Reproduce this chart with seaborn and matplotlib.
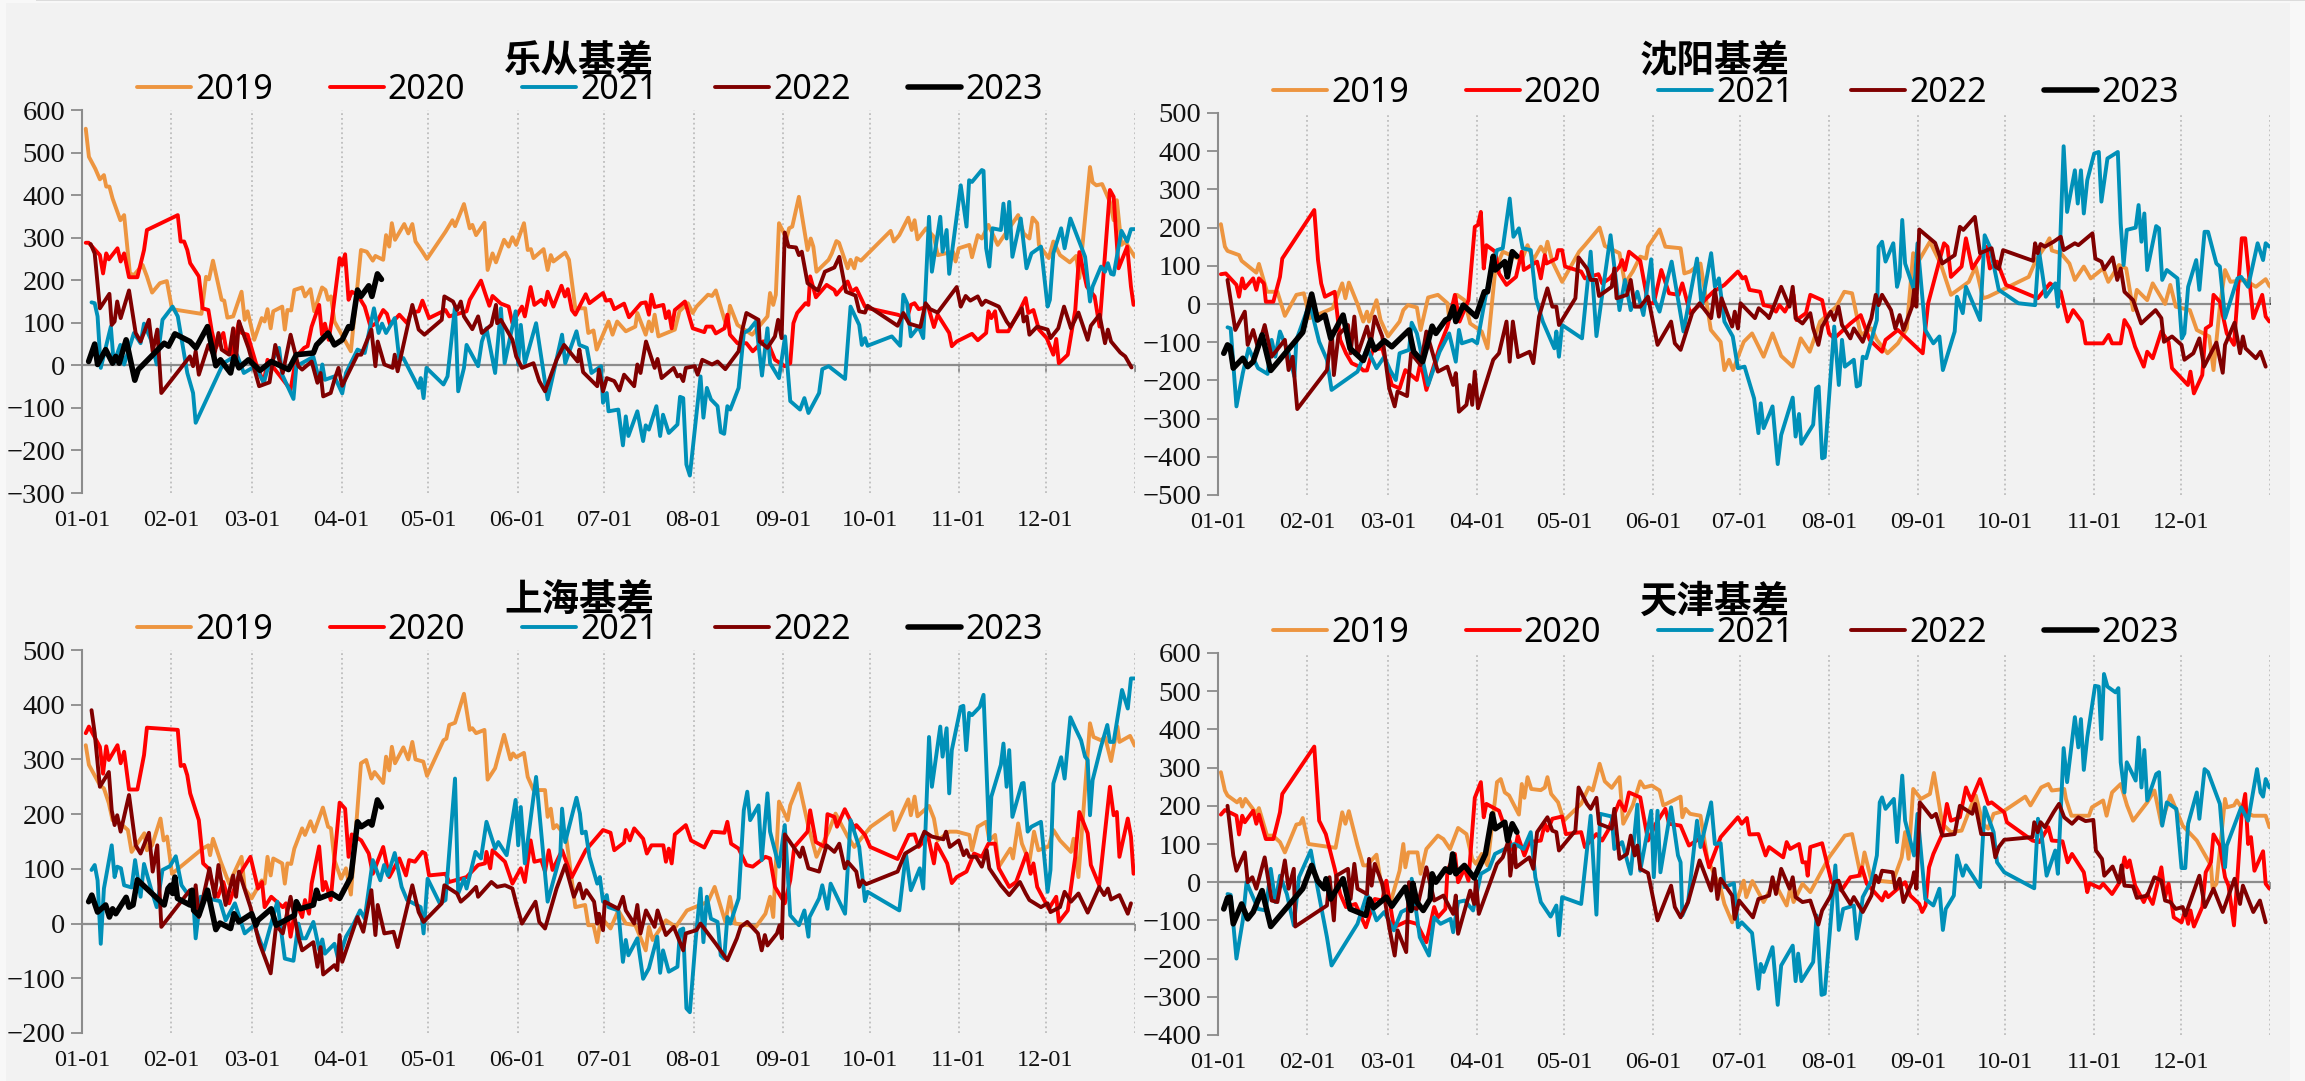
import matplotlib
matplotlib.use("Agg")
import matplotlib.pyplot as plt
from matplotlib.patches import Rectangle
import seaborn as sns

W, H = 2305, 1081

years = ["2019", "2020", "2021", "2022", "2023"]
colors = ["#ED9540", "#FF0000", "#0090B8", "#800000", "#000000"]
month_days = [0, 31, 59, 90, 120, 151, 181, 212, 243, 273, 304, 334]
month_labels = ["01-01", "02-01", "03-01", "04-01", "05-01", "06-01", "07-01", "08-01", "09-01", "10-01", "11-01", "12-01"]
titles = ["乐从基差", "沈阳基差", "上海基差", "天津基差"]

# 乐从 (day of year, value)
lc19_d = [1.3,2.4,4.6,6.2,7.6,8.4,9.5,10.6,13.3,14.6,16.6,18,21,22.5,24.3,27,29.4,31.2,41.4,43,44,45.4,48.4,49.3,50.4,52.4,55.3,56.4,57.4,59.7,62.3,63.3,64.3,65.4,66.3,69.4,70.3,71.2,72.5,73.6,76.3,77.3,79.2,80.5,83.2,84.4,85.3,86.3,87.5,93.2,96.7,98.7,100.8,101.7,104.4,105.4,106.5,107.4,108.5,111.7,113.1,114.5,115.6,118,119.6,126,128.4,129.3,132.4,134.4,135.3,136.6,139.5,140.6,142.3,143.5,146.3,147.9,149.2,150.5,153.2,154.5,155.6,156.5,160,161.4,162.5,163.4,167.5,168.8,171,174.4,175.5,177.3,178.4,182.5,183.9,185.5,188.5,191.8,192.5,195.4,196.5,197.5,198.5,199.8,205.5,207.1,210,211.7,213,217,218.4,219.7,222.7,223.7,224.6,227.2,232.3,237.6,238.5,239.6,240.5,241.6,244.2,245.1,246.2,248.5,251.5,252.6,253.5,254.6,258.8,259.9,261.5,262.4,265.4,266.4,267.7,268.5,270,280.3,281.4,283.3,286.4,287.6,288.6,289.6,292.6,295.3,296.6,301.9,302.8,303.9,307.6,308.5,310.5,311.9,314.2,317.4,324.5,326.4,328.4,329.5,331.1,331.7,335.1,336.7,339,342.4,344.6,345.7,349.4,350.3,351.6,353.6,356.3,357.6,358.7,360.3,361.6,364.9]
lc19_v = [556,490,462,437,447,420,420,392,341,353,216,212,236,209,171,193,198,132,121,208,202,246,154,152,112,115,173,107,127,60,111,103,132,87,127,138,84,130,129,177,183,162,179,127,183,177,154,162,103,33,271,267,246,257,248,306,279,334,295,332,310,332,291,267,250,314,341,327,379,322,330,306,335,224,263,242,295,279,301,283,334,271,273,252,273,224,259,244,265,248,134,134,76,82,37,103,72,103,80,91,123,72,103,80,119,68,84,127,146,123,138,166,163,176,107,91,140,95,72,115,170,142,166,334,298,322,326,396,271,298,279,220,248,263,292,288,228,248,228,252,246,316,291,306,347,318,341,296,322,302,259,267,244,275,283,254,306,298,330,283,353,310,298,347,334,283,252,291,259,242,257,205,466,430,423,426,384,341,388,283,291,255]
lc20_d = [1.3,2.3,6.2,7.3,8.4,9.3,12.3,13.4,14.6,16.3,19.2,21.5,22.5,33.2,34.2,35.4,36.5,37.5,40.5,41.8,43.8,45,46.4,49,50,52,54.4,55.4,57.4,60.3,63,64.3,72.3,74.3,77,78.2,79.6,82.2,83.2,84.2,85.5,86.6,89.3,90.2,91.2,92.4,93.5,95.5,98,100,102,104.4,105.7,106.8,110,112.7,114,116.7,118,120.3,126,127.3,133.3,134.4,138.3,139.7,141.2,142.3,145.2,147.9,149.2,152.5,153.5,155.5,156.8,159.2,160.5,161.4,163.4,166.2,167.4,168.4,169.8,171,174.6,175.9,180.6,181.6,183.2,184.5,187.9,189.6,193.8,195.4,196.5,197.4,198.5,201.5,202.4,203.4,204.4,205.5,209,211.7,215.7,216.4,218.4,219.7,222.7,223.7,224.6,227.2,230.3,232.5,236,237.6,240.2,243.6,245.5,246.6,247.9,250.8,251.8,252.4,254.4,258.1,260.8,261.5,265.4,266.8,268.4,271.4,272.7,282.7,286,287.3,288.6,290,293.3,295.3,296.6,300.6,301.5,303.2,308.5,310.5,313.4,314.2,315.2,316.5,317.4,321.1,325.1,327.1,328,329.8,331.7,334.4,336.7,337.7,338.6,341.7,344.3,345.7,348.3,351,352.7,356.3,357.6,359.3,362.3,363.6,364.5]
lc20_v = [288,288,259,216,263,249,275,244,263,207,207,271,318,353,291,291,271,240,209,134,130,80,41,76,37,25,103,76,72,5,-41,13,-57,21,41,45,91,142,72,98,60,107,252,236,261,154,173,166,138,91,99,130,121,95,119,99,124,127,152,111,130,115,127,154,199,170,140,163,145,138,99,138,115,184,142,154,142,173,138,187,162,179,130,119,167,146,170,152,154,132,145,113,146,148,119,166,137,142,111,127,87,130,150,87,78,91,91,75,87,119,72,52,52,33,56,56,13,-2,5,99,123,146,142,209,160,189,177,166,197,173,181,138,134,119,111,142,146,132,138,90,119,76,45,56,74,59,76,127,111,127,80,80,130,158,123,130,84,64,25,62,5,25,130,266,185,162,91,412,396,228,279,185,142]
lc21_d = [3.3,4.4,5.4,6.5,10,11,13.3,14.6,18,20.3,21.5,23.9,25.9,27.9,31.4,33.2,36.5,38.5,39.4,49,51,53.7,56.1,60,63,64.3,68.3,69.4,73.3,74.3,80.2,82.3,83.3,84.2,87.5,90.2,91.5,95.5,98,101.2,102.8,104,105.4,108.4,110,111.4,116.7,117.4,118.4,119.4,125.3,126.7,129.3,130.4,132.4,133.3,137.3,138.6,140.2,143.2,145.2,146.5,150.3,151.2,152.1,153.5,157.4,161.4,166.4,167.5,171.4,172.4,175,176.6,179.9,180.6,181.9,182.5,185.9,187.5,188.5,189.4,192.5,194.5,195.4,196.5,199.1,200.4,201.4,203.4,206.4,207.3,208.4,209.5,210.7,214.4,215.4,216.6,218,220.3,221.4,222.6,223.7,224.7,227.6,229.4,231.4,233.6,235.7,237.6,238.5,241.6,243.7,245.5,248.9,250.4,251.8,255.5,256.6,258.8,264.5,266.4,269.4,270.3,271.4,272.3,280.7,283.6,284.7,286,287.3,290,291.6,293.6,294.6,297.5,298.3,299.7,300.6,304.6,306.6,307.5,308.5,311.9,312.5,313.4,314.5,315.6,318.5,319.4,320.5,321.4,322.5,325.4,327.4,329.1,332.4,334.7,335.5,336.7,339.4,340.6,342.6,347.7,349.4,350.3,353.2,354.6,355.6,356.7,357.6,360.3,362.3,363.6,364.9]
lc21_v = [148,146,115,-6,91,5,48,2,76,52,98,60,2,107,138,115,-18,-65,-135,5,13,25,-18,-2,-41,-10,41,-22,-79,-2,20,-37,2,-34,-26,-66,-18,37,29,134,76,98,76,111,13,17,-53,-30,-77,-6,-45,-26,138,-61,-6,48,-2,56,87,-18,134,5,127,2,95,5,99,-80,72,5,80,48,41,-18,-2,-88,-65,-108,-104,-188,-120,-166,-108,-178,-141,-151,-96,-166,-116,-159,-139,-74,-77,-233,-259,-26,-123,-53,-80,-96,-157,-161,-96,-104,-53,76,84,103,-24,87,5,-30,68,-84,-104,-77,-112,-65,-9,-2,-32,138,95,48,64,46,68,46,166,146,68,91,64,349,220,349,267,318,215,423,326,435,431,459,457,275,232,322,318,380,298,384,255,345,228,263,279,138,154,263,322,275,345,255,150,185,232,220,240,215,213,316,291,320,320]
lc22_d = [3,4.4,6.2,9.5,10.3,11.3,12.2,13.4,16.3,18.6,20.3,23.2,24.5,26.1,27.5,37.4,38.5,39.4,40.5,43.8,45.8,47.3,48.4,51,52.4,53.4,54.4,57.7,61.4,65,67,69.6,72.3,75,76.3,79.6,81.6,82.7,83.6,86.2,87.5,88.9,90.2,95.5,96.8,100.3,101.7,102.5,104.8,107.7,108.4,109.4,114.5,116.7,118.7,124.7,125.6,128.6,130,131.3,132.4,135.3,137.3,138.6,141.9,143.5,143.9,145.2,149.2,150.5,152.5,156.5,158.5,160.5,164.5,167.1,171.8,172.4,173.7,178.6,179.2,180.6,181.9,184.5,186.3,187.9,191.4,192.5,193.6,195.5,198.5,199.5,200.9,205.1,206.4,207.3,208.4,209.3,212.4,213.4,215,218.4,220.3,223,227.6,229,230.3,234.5,234.9,237.6,240.2,241.3,242.5,243.6,244.9,247.5,248.5,249.5,251.5,255.1,257.5,260.8,262.5,264.8,268.1,269.4,271.4,272.3,282.7,284.7,286.7,290.6,292.4,294,296.6,303.2,304.6,306.3,307.9,310.5,311.9,313.2,317.8,320.5,321.8,325.8,326.4,327.5,328.4,331.1,334.7,335.7,338.4,340.4,342.8,345.4,348.6,349.7,352.7,354.6,355.6,356.7,359.9,361.6,363.8]
lc22_v = [285,263,134,168,95,103,150,111,176,76,56,107,33,84,-65,21,-2,33,-22,48,21,76,37,25,87,13,103,41,-49,-40,48,-18,72,-2,-10,9,-41,-18,-73,-65,-34,-6,-48,25,25,84,-2,56,2,-6,25,-14,142,84,72,107,162,150,130,150,115,85,115,76,95,142,99,107,60,21,-6,5,-37,-61,13,48,9,37,-16,-49,-10,-61,-30,-37,-59,-22,-49,2,-18,56,-6,15,-30,-6,-26,-22,-37,-6,-2,-22,13,2,9,-9,33,87,123,107,56,41,68,107,64,312,279,277,259,267,193,176,220,230,255,173,164,127,124,140,93,123,98,90,146,132,124,184,138,163,152,162,142,152,138,103,91,134,103,115,72,91,84,64,87,138,87,124,60,93,119,52,84,56,30,21,-5]
lc23_d = [2.3,4.4,5.4,8.2,10.6,11.7,12.9,15.3,18.3,19.5,28.5,30,32.2,37.4,39.5,43.5,46.4,48,51.5,52.7,54.4,57.7,61.7,65.6,71.6,74.3,80.2,81.3,85.3,87.5,90.2,92.4,93.5,95.5,96.7,99.4,100.5,102.4,103.8]
lc23_v = [9,50,2,37,5,21,5,60,-35,-10,52,45,74,56,41,91,-1,13,-18,20,-6,13,-12,9,-10,25,29,48,76,48,60,91,87,177,162,187,162,215,202]

# 沈阳
sy19_d = [1,2.4,3.3,7.3,8.2,13.3,14.2,17,20.6,23.2,27.2,29.8,31.8,39.8,43.1,44.2,45.4,48.4,50.4,51.7,52.4,55,56.4,59,63,64.3,65.9,69,70.3,72.9,76.3,79.6,80.2,82.9,85.5,87.5,91.5,93.5,96.2,98.8,105.4,107.4,109.4,112,113.4,114.3,116,119.4,125.3,127.3,132.4,134.2,139.3,141.2,143.9,146.5,148.5,149.2,153.2,155.2,160.5,161.8,163.8,167.4,171,174.4,175.7,177.3,178.7,182.4,185.3,189.3,192.4,195.4,199.4,202.2,205.3,208.9,214.5,217.3,220,223,226.7,228.6,232.3,235.9,239,241.2,243.3,247,250.7,254.3,260.5,262.9,265.4,267.2,281.3,283.8,286.9,288.5,289.3,292.4,295.4,297.3,300.4,302.8,307.1,308.9,312.6,315.1,317.5,318.8,322.4,324.3,328.6,330.4,332.3,337.2,339.6,343.9,345.4,347.6,349.4,351.3,356.2,360.1,363.5,364.8]
sy19_v = [209,150,139,128,113,82,105,32,32,-31,24,28,-37,-11,54,15,56,0,-46,-20,-46,10,-42,-85,-46,-16,-3,-9,-68,17,24,2,-37,24,10,-51,-72,-116,89,137,115,154,115,150,133,163,111,58,137,154,200,152,133,54,85,124,119,150,195,150,146,80,85,106,-68,-99,-173,-146,-173,-99,-77,-138,-77,-136,-164,-90,-125,-46,-7,32,28,-81,-64,-94,-129,-103,-64,133,115,163,106,24,58,98,15,19,71,115,150,172,140,133,106,63,98,67,93,58,102,93,-16,37,10,54,0,50,-7,-16,-68,-85,-173,-7,89,58,63,45,65,47]
sy20_d = [1,2.7,6.4,7.3,8.4,9.3,12.2,13.3,14.2,15.9,16.6,19.2,21.5,22.3,33.4,34.7,35.8,37.1,40.5,42.4,44.4,46.4,49,50.4,51.7,53.7,57,60.3,63,65,69,70.3,72.3,76.9,79.6,82.2,83.8,86.9,89.1,90.2,91.2,92.2,93.1,96.2,97.5,100.1,103.4,105.4,106.1,110.7,112,113.4,114,117.4,118,119.4,120.4,126,127.3,132,133.3,135.9,139.3,140.2,141.2,142.6,146.5,149.2,151.2,153.8,156.5,159.8,161.1,163.8,167.8,171.8,175.7,180.4,182,183,184.4,188.1,189.3,191.8,193.6,194.8,196.7,199.7,200.7,204,205.5,209.6,212,213.8,219.4,223,226.1,230.4,231.6,235.9,239.6,244.5,246.4,251.9,253.1,254.3,258,259.5,261.7,266.6,267.8,270.3,273.4,284.4,288.7,292.4,294.8,296.7,299.7,301,307.1,309,310.2,313.2,314.5,316.3,318.2,321.2,322.4,324.3,327.3,329.8,331,336.5,337.4,338.6,341.5,342.7,344.5,345.4,347.6,350,352.5,355.2,356.4,359.2,362.3,363.5,364.8]
sy20_v = [78,80,50,19,67,41,67,37,67,54,6,6,71,119,246,115,54,19,32,-94,-129,-155,-164,-174,-174,-120,-116,-212,-221,-173,-199,-151,-225,-112,-59,24,-46,10,202,207,241,93,154,137,80,50,71,137,89,111,67,128,106,119,141,141,98,85,67,78,54,67,98,115,89,137,113,2,2,89,28,24,54,-24,2,32,50,85,67,71,37,32,-3,-7,-20,-3,-20,24,-42,-24,24,10,-77,-90,-51,-29,-94,-125,-94,-68,-94,-129,2,159,150,71,98,172,93,150,93,111,50,15,54,32,-46,-16,-46,-103,-103,-81,-103,-103,-42,-64,-112,-164,-125,-142,-72,-99,-168,-212,-177,-234,-186,-64,-55,24,6,-77,-107,172,172,-37,24,-33,-46]
sy21_d = [3.3,4.4,6.4,8.6,10.6,13.9,17.2,18.6,19.9,21.5,24.5,26.5,27.2,31.8,35.1,37.8,39.4,48.4,51.7,55,57.7,59.7,61.7,63,66.3,67.2,69,72.9,76.9,80.2,82.5,83.6,84.6,88.2,89.9,92.8,96.8,98.8,101.2,102.5,104.4,105.7,108.5,110.3,112.7,116.7,117.4,118.3,119.4,126.3,129.3,131.3,136.2,139.3,141.2,143.2,145.5,147.6,150.3,151.2,153.2,157.4,161.5,166.2,167.8,171.1,172.4,173.8,175.7,178.6,180.4,182.7,186,187.5,188.3,189.3,192.4,194.2,195.4,199.4,200.4,201.6,202.4,206.5,207.5,208.4,209.6,210.5,213.8,215.4,216.5,217.5,220.6,221.6,222.7,223.7,224.9,228.6,229.2,230.4,231.6,234.3,235.6,236.5,237.4,238.4,241.5,242.7,245.4,248.2,250.3,251.5,255.6,256.4,258.4,259.5,264.4,266,267.8,270.9,277.7,283.5,284.8,287.2,290.5,291.4,293.4,294.6,297.3,298.3,299.4,300.4,301.6,304,305.6,306.5,308.6,312.2,313.2,314.2,315.3,318.4,319.4,320.4,321.4,322.4,325.5,326.5,327.6,329.2,332.9,334.4,335.3,336.6,339.4,340.5,342.3,343.5,346.4,347.6,349.4,353.7,355,357.4,360.7,362.6,363.5,364.8]
sy21_v = [-61,-64,-268,-181,-116,-168,-183,-94,-138,-72,-129,-190,-94,2,-99,-146,-225,-177,-116,-168,-138,-173,-199,-129,-120,-49,-77,-212,-125,-77,-151,-68,-103,-94,-103,19,141,146,276,176,198,146,141,15,-46,-116,-72,-138,-55,-90,137,-84,180,-16,63,-16,32,-29,117,15,-20,111,-72,119,-7,133,45,67,-46,-85,-168,-164,-247,-338,-260,-325,-268,-419,-343,-245,-347,-288,-366,-316,-221,-216,-404,-401,-59,-212,-94,-164,-146,-216,-212,-138,-142,-42,150,163,111,159,45,71,220,106,37,159,-68,-103,-85,-173,-72,19,-24,45,-42,180,150,37,2,-3,141,19,54,-7,413,241,350,263,350,237,324,394,398,268,381,398,211,102,194,200,259,163,237,89,204,198,63,89,67,-90,-77,45,115,37,189,189,106,98,-37,67,71,45,159,115,159,150]
sy22_d = [3.3,6,9.3,10.3,12.2,13.9,16.2,18.6,23.2,24.5,25.9,27.5,37.8,39.5,40.2,41.8,45.1,46,47.3,48.4,51.7,53,54.4,57,59.4,61.3,62.3,65.6,67,70.3,72.3,76.3,79.6,81.6,82.5,83.6,86.2,87.3,88.2,89.1,90.2,95.5,97.5,100.1,101.2,102.3,104.1,108.1,109.4,111.4,114.3,116,117.4,118.3,124,125.1,128,129.3,131.3,132.2,136.6,137.5,138.3,141.9,143.2,144.6,146.5,149.2,152.5,157.2,158.5,160.5,164.5,167.1,171.1,172.4,173.8,174.7,178.4,179.3,180.4,181.3,186.3,187.6,190.3,191.2,193,195.4,198.3,199.4,200.4,202.8,205.5,206.5,208.3,209.6,212.6,213.8,215.3,216.5,219.4,220.6,223.7,226.7,228.2,229.2,230.4,233.5,235,236.5,237.8,240.8,241.5,242.3,243.3,248.8,251.3,255.6,257.4,258.6,262.6,264.4,268.4,269.7,270.9,272.4,282.8,283.5,284.4,285.4,286.9,289.9,292.4,293.4,297.3,298.5,303.4,304.4,306.5,307.5,310.4,312,313.2,314.5,317.5,320.3,325.3,327.3,328.2,331,334.3,335.3,338.4,340.5,342.1,346.4,348.6,349.4,352.7,354.6,355.6,356.5,360.1,361.7,363.5]
sy22_v = [63,-68,-20,-107,-68,-116,-55,-138,-94,-173,-138,-275,-173,-72,-186,-81,-55,-129,-33,-133,-59,-103,-33,-85,-221,-268,-229,-241,-129,-160,-72,-177,-164,-212,-181,-282,-264,-212,-264,-177,-273,-146,-129,-46,-151,-46,-139,-125,-155,-33,41,-7,-7,-55,15,122,93,63,63,21,45,93,15,24,63,-7,-7,19,-107,-46,-103,-120,-24,2,-37,37,-33,15,-59,-20,-64,2,-37,-11,-29,-37,-3,45,-7,45,-37,-51,-24,-64,-107,-59,-20,-42,-7,-55,-90,-64,-99,-37,24,-3,24,-16,-64,-29,-68,-7,37,-7,195,160,106,128,202,194,228,133,146,98,92,141,113,159,133,157,150,163,176,141,159,154,185,119,111,91,122,63,93,32,10,-51,-16,-37,-99,-85,-107,-146,-129,-90,-164,-101,-180,-107,-49,-129,-85,-116,-142,-125,-164]
sy23_d = [2,3.3,4.2,5.3,8.6,10.3,12.2,15.3,18.3,29.4,32.5,34.5,37.1,39.1,43.4,45.8,50.4,53,54.4,57.7,60.3,66.3,67.9,71,72.9,74.3,75.6,78.9,80.2,81.6,82.5,85.1,89.5,92.4,93.5,95.5,96.2,99.5,100.4,102.1,103.7]
sy23_v = [-129,-107,-112,-168,-142,-164,-151,-81,-174,-74,26,-42,-29,-90,-29,-116,-148,-94,-120,-96,-112,-68,-125,-151,-99,-58,-77,-42,-37,-7,-46,-3,-33,32,32,125,89,111,71,137,125]

# 上海
sh19_d = [1.3,2.4,6.2,7.6,9.3,10.6,13.3,15.9,17.2,21.6,22.5,24.3,27.2,28.3,29.5,31.2,41.8,43.8,44.4,45.4,48.1,51,55.3,56.4,58.8,62.3,63.3,64.3,65.4,66.3,69.4,70.3,71.2,72.5,73.6,76.3,77.3,79.2,80.5,83.5,85.3,86.3,87.5,89.8,91.5,93.2,96.7,98.5,100.3,101.4,104.4,105.4,106.5,107.4,108.5,111.4,113.1,114.5,115.6,118.3,119.6,125.3,126.3,127.3,129.3,132.4,134.4,135.3,136.6,139.5,140.6,143.2,146.3,148.5,149.4,150.5,153.2,154.5,156.5,160.5,161.4,162.5,163.4,164.5,167.8,171,174.4,175.5,177.3,178.6,179.9,183.2,185.9,188.5,191.8,195.4,196.5,197.8,202.4,205.8,209.7,217,219.3,223,224.6,226.3,231,233.6,236.9,238.5,239.6,241.6,244.6,245.5,248.5,251.8,254.6,258.8,261.2,265.4,267.7,273.4,280.7,281.6,286.4,287.3,288.6,289.6,293.6,295.3,296.6,300.6,303.2,307.6,308.5,310.5,313.4,314.5,316.5,317.8,321.8,322.7,324.5,325.8,328.4,330,331.5,335.1,336.7,339,342.8,343.7,345.4,349.4,350.6,353.2,354.6,356.7,358.9,359.6,363.3,364.9]
sh19_v = [326,290,253,247,220,189,183,171,131,165,134,143,192,152,159,91,137,143,125,155,113,73,122,64,46,79,73,122,88,119,110,73,110,109,137,174,162,187,168,212,177,174,116,82,101,53,293,299,265,277,257,305,280,323,293,322,300,332,300,296,270,335,338,363,367,420,354,357,348,354,263,284,345,300,311,304,312,268,244,244,195,210,174,180,159,30,34,-3,-3,-34,12,-9,24,0,-3,-49,-6,-30,6,-6,24,40,67,3,49,0,-3,-6,18,49,12,223,189,216,256,177,122,168,201,159,140,177,204,171,227,198,232,196,215,192,152,168,168,162,134,177,186,152,162,104,137,119,183,146,113,168,134,141,171,152,131,155,85,366,341,335,341,297,360,332,343,325]
sh20_d = [1.3,2.4,6.2,7.3,8.4,9.3,12.3,13.4,14.6,16.3,19.2,21.5,22.5,33.2,34.2,35.4,36.5,37.5,40.5,42,43.8,45.8,47.1,49,51,54.4,58.4,61,62.4,63.3,65.6,69.6,70.7,72.3,74.3,76.3,77.3,78.7,79.6,82.2,83.5,84.4,86.2,89.3,91.2,92.4,93.5,96.8,99.4,100.8,104.4,106.5,110,112.3,113.4,115.4,118,119,120.3,126,127.3,133.3,137.3,139.7,140.2,141.5,142.3,146.6,149.2,152.1,153.5,155.5,156.8,159.2,160.5,161.8,163.1,166.4,169.8,174.6,180.6,183.2,184.5,187.9,188.5,189.9,191.4,194.5,195.8,197.4,201.5,202.4,203.4,204.4,205.5,209.3,211.1,215.7,218.4,222.7,223.7,225,227.6,230.3,232.5,236.9,238.5,240.2,243.6,245.5,246.9,251.5,252.4,254.4,257.5,258.4,260.8,261.7,264.4,267.7,268.4,271.4,273.2,282.7,286.6,288.6,290,293.3,295.3,296.2,299.9,301.5,303.2,306.6,309.2,311.9,314.2,316.5,317.8,321.4,323.8,327.4,328.8,329.8,331.1,335.1,337.7,338.6,341.7,344.3,345.7,348.6,349.7,352.6,356.3,357.6,358.7,359.6,362.5,363.6,364.5]
sh20_v = [348,360,323,274,324,299,326,293,314,245,245,308,358,354,288,290,271,238,189,110,101,61,49,76,37,88,122,64,76,30,49,30,37,-24,37,12,43,18,73,141,61,76,43,221,210,122,163,152,128,91,140,85,119,88,116,113,131,128,88,91,76,85,107,110,131,101,134,113,73,101,76,152,113,116,95,134,98,134,85,134,171,166,134,148,171,152,174,155,128,143,143,113,137,110,163,180,152,139,168,166,186,146,137,107,104,122,119,67,37,79,140,168,207,149,140,200,195,177,209,174,180,162,140,118,162,163,140,159,110,146,110,74,85,95,128,122,146,146,101,67,76,128,91,110,67,27,49,3,24,122,204,165,107,70,250,198,204,122,192,159,91]
sh21_d = [3.3,4.4,5.4,6.5,7.6,10.3,11.3,12.2,13.5,14.6,17.2,18.4,20.3,21.5,23.9,25.9,27.9,30.5,32.5,34.5,36.5,38.5,39.4,41.1,47.8,49.8,53,56.4,59.7,63,67.7,70.3,73.3,75,76.3,77.6,80.2,82.3,83.3,84.2,87.5,88.9,91.5,94.2,96.4,98,100.8,103.4,104.7,106,108.4,110.8,112.7,117.4,118.4,119.8,124,126,129.3,130.4,132.4,133.3,136.4,138.3,140.2,143.2,144.3,147.2,150.3,151.2,152.1,153.5,157.4,161.4,165.8,166.4,167.5,171.4,172.6,173.3,174.6,175.9,178.6,179.5,180.6,181.9,182.5,185.9,187.5,188.5,189.4,192.5,194.5,196.5,199.4,200.4,201.4,203.4,206.4,207.3,208.4,209.5,210.7,212.7,214.4,215.4,216.6,218,220.3,221.4,222.6,223.7,224.7,227.6,229.4,230.6,231.6,234.5,235.6,237.6,238.5,241.6,243.6,245.5,248.5,250.4,251.8,252.2,255.5,256.6,258.4,259.5,264.5,266.4,269.4,271.4,272.3,283.3,285.6,287.3,290.4,291.6,293.6,294.6,297.5,298.3,299.7,300.6,301.5,304.6,305.5,306.5,307.5,308.5,311.2,312.5,314.5,315.2,318.5,319.4,320.5,321.4,322.5,325.8,326.4,327.8,329.1,332.4,334.7,335.7,336.7,339.4,340.6,342.6,344.3,346.3,347.7,348.6,349.4,350.3,353.2,355.4,356.3,357.6,360.5,362.5,363.6,364.9]
sh21_v = [98,107,79,-37,64,143,85,104,101,70,66,116,49,109,64,30,98,105,123,70,55,49,-27,49,41,6,37,-18,-3,-49,40,-64,-68,0,-27,-27,3,-49,-29,-55,-37,-67,-24,0,24,9,116,79,107,88,129,67,43,30,-18,82,37,43,265,55,82,64,131,119,186,137,149,125,226,143,213,110,268,40,125,210,149,230,201,165,168,122,73,85,40,52,30,24,-70,-30,-58,-27,-101,-82,-24,-90,-49,-88,-79,-12,-9,-155,-162,-30,64,-34,49,9,3,-58,-64,12,0,46,207,241,189,216,116,238,168,104,180,15,-3,24,-24,12,46,70,27,73,18,189,140,41,58,24,128,61,101,64,341,250,360,305,357,238,317,396,398,317,385,381,396,418,152,232,290,329,250,317,195,256,257,168,177,186,58,98,256,304,265,377,357,335,305,299,198,262,323,363,332,332,427,393,448,448]
sh22_d = [3.3,4.4,6.2,9.3,10.3,11.3,12.2,13.4,16.3,18.6,20.3,23.2,24.5,26.1,27.5,37.4,38.5,39.4,40.5,44.2,46,47.3,49.8,52.4,53.4,54.4,58.4,61.4,65.4,67.3,69.6,72.3,75,76.3,80.2,81.6,82.7,83.6,87.5,88.5,89.3,90.2,95.5,97.5,100.3,101.7,102.5,104.8,108,109.4,114.5,116.7,118.4,124.7,125.6,130,131.3,133.9,136.6,137.3,141.9,143.9,146.6,149.2,150.5,152.5,157.2,158.5,160.5,164.5,167.5,170.5,172.4,173.7,174.8,177.5,178.6,179.2,180.6,181.2,185.9,187.5,188.5,191.4,192.5,193.6,195.5,198.5,199.5,202.4,205.1,208.4,209.3,213,214.4,219.7,223.7,227,228.3,230.6,234.3,235.6,236.7,237.6,240.9,241.8,242.6,243.6,248.2,248.9,249.8,251.8,255.5,258.1,260.8,262.5,264.4,265.4,268.4,269.4,270.5,271.8,282.7,285.3,290,292,294.6,298.6,299.5,300.8,303.9,305.6,306.6,307.6,309.9,311.9,313.6,314.5,318.5,321.4,325.1,327.1,328.4,332.4,334.7,335.7,339,340.6,342.8,345.4,348.6,352.6,354.3,355.6,356.7,359.6,362.5,363.6]
sh22_v = [390,348,250,277,207,180,198,168,235,143,128,166,95,143,-6,61,30,70,12,101,49,107,34,88,49,95,30,-34,-91,-3,-18,49,-24,-49,-34,-79,-43,-93,-76,-85,-21,-70,12,-15,61,-21,34,-18,-15,-43,70,21,3,37,70,55,40,52,67,49,76,67,70,64,37,0,40,3,-9,64,107,49,73,46,61,40,0,18,-12,40,27,49,24,0,34,-18,24,-6,24,-21,-6,-49,-18,-12,0,-37,-67,-27,-6,3,-18,-49,-21,-40,-18,-3,-27,163,128,122,139,101,95,143,131,146,101,113,95,67,79,72,95,128,143,168,159,154,168,140,152,125,134,122,122,104,134,101,70,52,76,55,43,30,37,21,30,58,40,55,20,67,52,64,44,52,18,37]
sh23_d = [2.3,3.4,5.4,8.2,9.5,10.6,11.7,15.3,16.3,17.7,19.2,28.5,29.8,30.7,31.4,32.2,33.1,37.4,38.2,38.7,40.5,43.5,46.4,47.8,51.5,52.7,54.4,58.8,60.3,61,65.6,67.3,73.6,74.3,75.6,80.2,81.3,82.2,86.6,89.3,93.2,95.5,96.8,99.4,100.5,102.4,103.8]
sh23_v = [40,52,21,34,12,27,18,48,30,34,80,34,64,70,55,85,46,34,61,24,15,61,-11,1,-9,18,3,18,-3,6,27,-3,15,40,27,34,61,46,55,46,85,186,177,186,180,226,213]

# 天津
tj19_d = [1,2.4,3.3,6.6,7.7,8.4,9.5,13.3,14.2,17,19,21.5,23.2,27.2,28.5,29.4,31.4,40.8,43.1,44.2,45.4,48.4,50.4,51.7,55,56.4,59.7,63,64.3,65,66,69.2,70.3,72.3,76.3,78.2,80.5,83.3,86.2,88.2,89.5,91.5,93.5,96.8,98.1,99.5,101,104.4,105.4,106.3,107.4,108.7,112,113.4,114.3,115.6,118,120,126,128.6,130,132.4,134.2,136.6,139.3,140.6,143.9,146.5,147.9,150.5,153.2,154.5,160.5,161.1,162.2,163.8,167.4,169.8,171.1,174.4,175.7,178.4,180,182.4,183.3,185.4,189.3,193,197.3,198.5,199.7,202.8,205.5,212,217.5,220,223,224.3,226.7,229.2,234.1,237.2,238.4,239.6,241.2,243.9,247,248.4,251.3,254.3,258,261.1,262.9,265.4,267.2,269.1,272.8,280.1,281.9,285.6,288.1,289.3,293.6,294.2,296.1,302.2,303.2,307.1,308.3,310.2,313.2,315.4,317.5,322.4,324.9,327.3,330.4,334.7,339.6,344.5,345.1,346.4,349.4,350,352.5,353.5,356.2,359.2,363.5,364.8]
tj19_v = [288,240,227,209,218,198,218,180,194,122,122,105,78,151,153,168,100,90,183,153,186,96,44,44,72,4,-57,30,100,39,78,78,22,87,122,113,87,142,126,61,48,74,44,262,270,235,227,177,257,221,275,244,241,248,275,231,209,161,205,248,240,310,264,247,275,153,201,264,248,253,240,201,224,170,192,179,174,61,39,-17,-57,-105,-48,4,-39,3,-52,0,-61,-17,-52,-4,-26,65,122,126,17,78,4,4,0,65,131,61,244,218,231,286,153,131,135,196,227,153,140,179,187,224,201,248,257,240,244,218,174,174,196,214,174,235,257,201,161,209,240,153,227,148,109,44,-17,-4,218,196,201,214,183,174,174,144]
tj20_d = [1,2.4,6.4,7.3,8.4,9.3,12.2,13.3,14.2,16.6,19.2,21.5,22.3,33.4,35.1,37.4,40.5,42.4,44.4,47.7,51.3,54.4,57,58.4,61,65.6,69,72.3,75,76.3,78.9,79.6,82.2,83.3,85.5,86.9,89.1,91.2,92.2,93.1,97.5,100.1,102.8,104,106.3,108,112,113.4,114.3,116,119.4,120.7,126,127.3,131.3,133.3,135.3,139.3,141.2,142.6,146.5,149.2,151.9,155.2,156.5,160.5,163.4,167.8,170.4,174.4,180.4,181.7,183.5,184.4,187.5,190,191.2,196.1,197.3,198.5,201.6,202.8,204,204.6,205.5,209.6,212.9,216.3,219.4,222.4,223.4,225.1,230.4,231.6,232.5,238.4,240.2,243.3,244.3,245.5,246.7,248.2,251.3,252.9,254.3,257.4,259.5,261.3,264.4,267.2,268.4,272.8,273.7,282.6,285,288.1,289.3,293,294.8,296.3,300.4,301.6,302.4,305.9,307.1,310.2,313.2,314.5,315.4,316.3,318.2,321.2,322.4,324.3,327.3,328.6,329.8,331.6,334.3,335.6,336.6,337.4,338.6,341.5,342.7,344.5,345.4,347.6,349.4,350.6,352.5,353.7,355.2,356.4,357.4,358.4,359.6,362.6,363.5,364.8]
tj20_v = [177,189,174,125,174,157,187,153,177,113,113,183,231,355,161,126,35,-31,-65,-57,-118,-44,-48,4,-118,-102,-109,-157,-65,-92,-70,30,74,0,35,4,221,262,170,205,187,131,74,122,70,105,109,153,135,166,172,126,131,92,126,109,135,212,187,235,222,109,153,192,153,148,96,118,39,118,170,153,168,125,126,70,92,65,105,87,100,52,52,17,92,102,0,-22,13,17,39,-4,-48,-26,-39,0,-35,-57,-78,-61,39,74,126,205,161,170,248,214,270,205,209,183,157,109,105,144,109,107,52,74,26,-26,-3,-15,-4,-31,4,65,39,57,-9,-52,-31,-57,39,-39,-4,-92,-105,-74,-109,-74,-116,-65,26,52,125,96,13,-9,-113,13,183,231,100,118,30,81,-4,-17]
tj21_d = [3.3,4.4,6.4,8.6,9.9,13.9,16.6,18.3,19.9,21.5,23.9,26.3,28.1,32.2,34.5,37.8,39.4,48.4,51.7,55,57.7,61,63.6,67,67.2,70,73.2,75,77.2,80.7,81.6,83.3,85.6,88.5,91.2,94.1,96.1,100.8,102.8,104,106,108.5,110.1,112,115.4,117.4,118.3,119.4,126,129.3,131.3,132.6,136.6,137.5,140.2,143.2,145.5,146.5,150.3,151.2,152.5,153.5,157.2,159.6,160.5,161.1,163.1,166.2,167.4,171.1,172.4,174.4,175.7,179,180.4,181.7,185.3,187.5,188.3,189.3,192.4,194.2,195.4,199.4,200.4,201.3,202.4,206.5,207.7,209.4,210.5,214.2,215.4,216.9,220.6,221.6,222.7,223.7,226.7,228.6,229.6,230.4,231.6,234.5,235.6,237.4,238.4,241.5,242.7,245.4,248.2,250.3,251.5,252.5,255.3,256.4,258.4,259.5,264.4,266,269.1,270.3,272.8,283.2,284.5,285.6,287.5,290.5,291.4,293.4,294.6,297.3,298.5,299.4,300.4,301.6,304.3,305.6,306.5,307.4,308.6,311.4,312.4,313.2,314.5,315.3,318.4,319.4,320.4,321.4,322.4,325.5,326.5,327.6,329.2,332.5,334.3,335.6,336.6,339.6,340.5,342.3,343.5,347.6,349.4,350,355,357.4,360.5,361.7,362.6,363.5,364.8]
tj21_v = [-31,-33,-200,-100,0,-70,-74,35,-52,17,-31,-113,13,83,-13,-144,-218,-109,-31,-100,-78,-126,-78,-65,9,-144,-192,-92,-109,-96,-131,-52,-48,-74,22,35,74,92,100,96,87,131,13,-52,-90,-61,-139,-39,-57,174,-85,179,172,87,105,22,203,30,187,13,187,26,196,70,52,-87,-52,161,92,209,100,102,-13,-3,-118,-105,-133,-279,-214,-235,-170,-321,-218,-166,-259,-187,-259,-209,-87,-295,-292,44,-125,-70,-61,-148,-100,-39,4,70,209,222,192,218,105,279,161,70,179,-44,-61,-17,-125,-70,-35,70,17,44,-13,196,131,52,26,-16,166,131,17,83,22,351,262,432,353,427,294,379,514,512,375,545,512,497,508,314,235,314,266,379,248,346,214,283,288,148,209,192,37,37,153,235,166,296,288,205,39,96,196,161,296,235,224,270,248]
tj22_d = [3.3,5.3,6.4,9.3,10.3,11.9,13.3,16.2,18.6,20.6,23.2,24.5,26.3,26.8,37.8,38.7,40.2,41.1,45.1,46,47.3,48.4,51.7,52.4,53.3,54.4,57,59.4,61.3,62.3,65.3,66.3,67,69,72.3,75,78.2,81.6,82.5,83.3,87.5,88.9,89.5,90.5,96.8,98.8,100.8,101.4,102.8,103.4,108,109.4,110.7,114.3,116,117.4,118.3,124,125.1,128,129.3,131.3,132.2,136.6,137.5,139.3,141.9,143.2,144.6,145.5,146.5,149.2,152.5,157.2,158.5,160.5,163.1,167.1,171.1,172.2,173.3,174.4,178.4,179.3,180.8,185.6,187.5,191.2,192.4,193.6,195.4,198.3,199.4,200.4,202.8,205.5,208.3,209.6,212.6,213.8,215.3,216.5,219.4,220.6,223.7,226.7,228.2,229.2,230.4,234.1,235,236.5,237.8,240.8,241.5,242.3,243.5,247.6,249.1,251.3,255.6,257.4,261.7,262.7,264.8,268.4,269.7,270.9,272.8,282.6,283.2,284.4,285.4,286.9,289.9,291.8,293.6,296.3,298.5,301,303.7,304.6,306.7,307.5,310.4,312.6,313.5,314.5,317.5,318.8,322.4,324.9,327.3,328.6,330.4,332.3,334.7,335.6,340.5,342.4,345.4,348.6,352.7,354.6,355.6,359.2,361.5,363.5]
tj22_v = [200,70,30,78,0,13,-17,65,-48,-52,57,-17,35,-116,-61,13,-100,17,35,-44,48,-17,-31,61,-9,48,-4,-118,-192,-126,-183,0,-65,-70,39,-48,-35,-83,-35,-135,-22,-57,4,-83,48,65,109,17,96,39,65,35,131,170,135,131,83,135,248,205,192,221,153,140,192,61,74,122,70,96,35,24,-100,-9,-65,-92,-52,57,-22,35,-44,9,-35,-96,-48,-92,-44,-35,13,-31,35,-17,13,-39,-52,-48,-111,-74,-35,0,4,-22,-57,-39,-78,-35,17,0,30,26,-17,9,-52,0,26,-17,209,170,179,122,126,200,179,205,126,126,65,92,111,118,157,131,157,144,183,205,170,153,170,160,163,83,61,17,41,0,44,-9,-11,-41,-35,13,4,-48,-52,-70,-65,-87,17,-65,-17,-78,9,-57,-9,-78,-48,-105]
tj23_d = [2,3.3,4.2,5.3,8.2,10.3,12.2,15.3,18.3,29.4,32.5,34.5,36.9,37.5,39.1,43.4,45.8,51.3,52.6,54,58.4,60.3,65,67,67.6,69,71.2,73.6,74.3,75.6,78.9,80.5,81.4,82.5,85.5,88.9,92.8,95.2,96.2,99.5,100.5,102.1,103.7]
tj23_v = [-70,-41,-39,-109,-57,-96,-78,-22,-116,-17,44,4,-17,9,-44,9,-70,-87,-44,-67,-39,-63,-13,-74,-3,-52,-74,-44,22,0,35,26,74,22,44,11,74,179,140,157,109,153,131]

panel_rects = [(82, 1135, 110, 493), (1218, 2270, 113, 495), (82, 1135, 650, 1033), (1218, 2270, 653, 1035)]
panel_lims = [(-300, 600), (-500, 500), (-200, 500), (-400, 600)]
title_pos = [(579, 61), (1715, 61), (579, 599), (1715, 601)]
panel_data = [
    [(lc19_d, lc19_v), (lc20_d, lc20_v), (lc21_d, lc21_v), (lc22_d, lc22_v), (lc23_d, lc23_v)],
    [(sy19_d, sy19_v), (sy20_d, sy20_v), (sy21_d, sy21_v), (sy22_d, sy22_v), (sy23_d, sy23_v)],
    [(sh19_d, sh19_v), (sh20_d, sh20_v), (sh21_d, sh21_v), (sh22_d, sh22_v), (sh23_d, sh23_v)],
    [(tj19_d, tj19_v), (tj20_d, tj20_v), (tj21_d, tj21_v), (tj22_d, tj22_v), (tj23_d, tj23_v)],
]

sns.set_theme(style="white")
plt.rcParams["font.family"] = ["Liberation Serif", "DejaVu Sans"]

fig = plt.figure(figsize=(W / 100, H / 100), dpi=100, facecolor="#F8F8F8")
fig.patches.append(Rectangle((6 / W, 0), 2284 / W, 1 - 3 / H, transform=fig.transFigure, facecolor="#F2F2F2", edgecolor="none", zorder=-10))
fig.patches.append(Rectangle((36 / W, 1 - 1 / H), 1 - 36 / W, 1 / H, transform=fig.transFigure, facecolor="#DCDCDC", edgecolor="none", zorder=-9))

for i, series in enumerate(panel_data):
    left, right, top, bottom = panel_rects[i]
    ax = fig.add_axes([left / W, 1 - bottom / H, (right - left) / W, (bottom - top) / H])
    ax.patch.set_visible(False)

    for j, (days, vals) in enumerate(series):
        sns.lineplot(x=days, y=vals, estimator=None, errorbar=None, color=colors[j], label=years[j],
                     linewidth=4.0 if j == 4 else 2.8, solid_joinstyle="round", solid_capstyle="round",
                     ax=ax, zorder=3 + j)

    lo, hi = panel_lims[i]
    ax.set_xlim(0, 365)
    ax.set_ylim(lo, hi)
    ax.set_xlabel("")
    ax.set_ylabel("")
    ax.set_xticks(month_days + [365])
    ax.set_xticklabels(month_labels + [""], fontsize=17.5, color="#111111")
    ax.set_yticks(range(lo, hi + 1, 100))
    ax.tick_params(axis="x", length=0, pad=12)
    ax.tick_params(axis="y", length=8, width=1.3, color="#8C8C8C", labelsize=20.5, labelcolor="#111111", pad=4, left=True)
    ax.xaxis.grid(True, linestyle=":", color="#BDBDBD", linewidth=1.3)
    ax.yaxis.grid(False)
    for s in ["top", "right", "bottom"]:
        ax.spines[s].set_visible(False)
    ax.spines["left"].set_color("#8C8C8C")
    ax.spines["left"].set_linewidth(1.5)

    # zero line with its little month ticks
    ax.axhline(0, color="#8C8C8C", linewidth=1.6, zorder=2)
    zero_ax = ax.secondary_xaxis(-lo / (hi - lo))
    zero_ax.set_xticks(month_days + [365])
    zero_ax.set_xticklabels([])
    zero_ax.tick_params(axis="x", length=5, width=1.3, color="#8C8C8C")
    zero_ax.spines["bottom"].set_visible(False)

    handles, labels = ax.get_legend_handles_labels()
    ax.legend(handles, labels, loc="center left", bbox_to_anchor=(51 / (right - left) + 0.004, 1 + 20 / (bottom - top)),
              ncol=5, frameon=False, borderpad=0, borderaxespad=0, handlelength=1.58, handletextpad=0.12,
              columnspacing=1.68, prop={"family": "Noto Sans", "size": 24.5}, labelcolor="#000000")

    fig.text(title_pos[i][0] / W, 1 - title_pos[i][1] / H, titles[i], ha="center", va="center", fontsize=27,
             fontweight="bold", family=["Noto Sans CJK SC", "DejaVu Sans"], color="#000000", zorder=20)

fig.savefig("out.png", dpi=100, facecolor=fig.get_facecolor())
